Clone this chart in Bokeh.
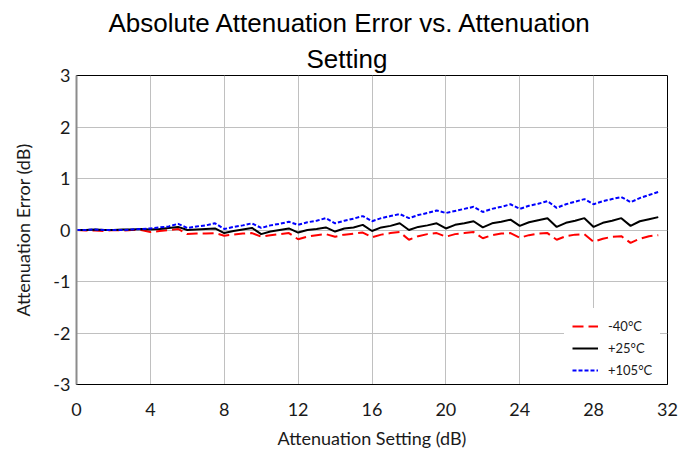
from bokeh.plotting import figure
from bokeh.models import Title, Legend, LegendItem, SingleIntervalTicker, Range1d
from bokeh.embed import file_html
from bokeh.resources import INLINE

# Attenuation settings (dB), 0.5 dB steps
setting = [i * 0.5 for i in range(64)]

err_m40 = [0.00, -0.01, -0.01, -0.02, 0.00, -0.01, 0.00, 0.00,
           -0.04, -0.02, 0.00, 0.02, -0.08, -0.07, -0.07, -0.06,
           -0.11, -0.09, -0.07, -0.06, -0.13, -0.10, -0.08, -0.06,
           -0.18, -0.13, -0.10, -0.08, -0.13, -0.09, -0.07, -0.05,
           -0.14, -0.09, -0.06, -0.04, -0.19, -0.12, -0.08, -0.06,
           -0.13, -0.08, -0.06, -0.04, -0.16, -0.10, -0.07, -0.06,
           -0.15, -0.10, -0.07, -0.06, -0.19, -0.12, -0.09, -0.08,
           -0.23, -0.17, -0.13, -0.12, -0.25, -0.17, -0.12, -0.10]

err_p25 = [0.00, 0.00, 0.01, 0.00, 0.00, 0.01, 0.01, 0.02,
           0.01, 0.02, 0.04, 0.06, 0.00, 0.01, 0.02, 0.03,
           -0.06, -0.02, 0.01, 0.04, -0.08, -0.03, 0.00, 0.03,
           -0.05, 0.00, 0.02, 0.05, -0.03, 0.03, 0.05, 0.10,
           -0.02, 0.05, 0.08, 0.13, 0.00, 0.06, 0.09, 0.13,
           0.03, 0.10, 0.13, 0.17, 0.05, 0.13, 0.16, 0.20,
           0.08, 0.15, 0.19, 0.23, 0.06, 0.14, 0.18, 0.23,
           0.06, 0.14, 0.18, 0.23, 0.08, 0.17, 0.21, 0.25]

err_p105 = [0.00, 0.00, 0.01, 0.00, 0.00, 0.00, 0.01, 0.02,
            0.03, 0.05, 0.07, 0.12, 0.04, 0.07, 0.09, 0.13,
            0.02, 0.06, 0.09, 0.13, 0.04, 0.09, 0.12, 0.16,
            0.10, 0.15, 0.18, 0.23, 0.13, 0.18, 0.22, 0.27,
            0.17, 0.23, 0.27, 0.31, 0.23, 0.29, 0.33, 0.38,
            0.33, 0.37, 0.41, 0.45, 0.35, 0.41, 0.45, 0.50,
            0.41, 0.47, 0.51, 0.56, 0.43, 0.50, 0.55, 0.60,
            0.50, 0.56, 0.60, 0.64, 0.54, 0.62, 0.68, 0.74]

series_labels = ["-40°C", "+25°C", "+105°C"]
title_lines = ["Absolute Attenuation Error vs. Attenuation", "Setting"]
y_tick_labels = {-3: "-3", -2: "-2", -1: "-1", 0: "0", 1: "1", 2: "2", 3: "3"}

p = figure(width=694, height=451, output_backend="svg", toolbar_location=None,
           x_range=Range1d(0, 32), y_range=Range1d(-3, 3),
           min_border_left=76, min_border_right=27, min_border_bottom=67,
           min_border_top=75)
p.title = None

t2 = Title(text=title_lines[1], align="left", offset=230,
           text_font="Liberation Sans", text_font_size="26px",
           text_font_style="normal", text_color="#000000", standoff=4)
t1 = Title(text=title_lines[0], align="left", offset=32,
           text_font="Liberation Sans", text_font_size="26px",
           text_font_style="normal", text_color="#000000", standoff=4)
p.add_layout(t2, "above")
p.add_layout(t1, "above")

p.outline_line_color = "#000000"
p.outline_line_width = 1

p.xaxis.ticker = SingleIntervalTicker(interval=4)
p.yaxis.ticker = SingleIntervalTicker(interval=1)
for ax in (p.xaxis, p.yaxis):
    ax.major_tick_out = 0
    ax.major_tick_in = 0
    ax.minor_tick_out = 0
    ax.minor_tick_in = 0
    ax.major_label_text_font = "Lato"
    ax.major_label_text_font_size = "18px"
    ax.major_label_text_color = "#1a1a1a"
    ax.axis_label_text_font = "Lato"
    ax.axis_label_text_font_size = "18px"
    ax.axis_label_text_font_style = "normal"
    ax.axis_label_text_color = "#1a1a1a"
p.yaxis.major_label_overrides = y_tick_labels
p.xaxis.axis_label = "Attenuation Setting (dB)"
p.yaxis.axis_label = "Attenuation Error (dB)"
p.xaxis.axis_line_color = "#000000"
p.yaxis.axis_line_color = "#8c8c8c"
p.yaxis.axis_line_width = 2
p.xaxis.major_label_standoff = 18
p.xaxis.axis_label_standoff = 8
p.yaxis.major_label_standoff = 6
p.yaxis.axis_label_standoff = 16

p.xgrid.ticker = SingleIntervalTicker(interval=4)
p.ygrid.ticker = SingleIntervalTicker(interval=1)
p.grid.grid_line_color = "#c0c0c0"
p.grid.grid_line_width = 1

r1 = p.line(setting, err_m40, line_color="#ff0000", line_width=2, line_dash="11 5")
r2 = p.line(setting, err_p25, line_color="#000000", line_width=2)
r3 = p.line(setting, err_p105, line_color="#0000ff", line_width=2, line_dash="4 2")

legend = Legend(items=[LegendItem(label=series_labels[0], renderers=[r1]),
                       LegendItem(label=series_labels[1], renderers=[r2]),
                       LegendItem(label=series_labels[2], renderers=[r3])],
                location=(488, -4))
legend.label_text_font = "Lato"
legend.label_text_font_size = "13px"
legend.label_text_color = "#1a1a1a"
legend.glyph_width = 26
legend.glyph_height = 20
legend.label_standoff = 10
legend.spacing = 2
legend.padding = 8
legend.border_line_alpha = 0
legend.background_fill_color = "#ffffff"
legend.background_fill_alpha = 1
p.add_layout(legend)

open("out.html", "w").write(file_html(p, INLINE))
